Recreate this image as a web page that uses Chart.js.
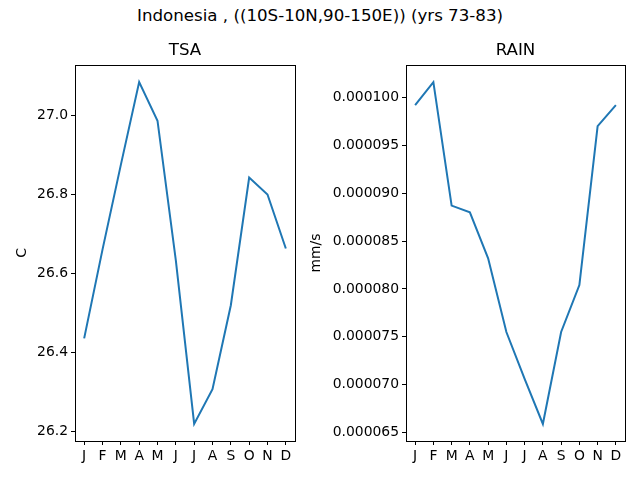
<!DOCTYPE html>
<html lang="en">
<head>
  <meta charset="UTF-8" />
  <title>Indonesia TSA / RAIN</title>
  <script src="https://cdn.jsdelivr.net/npm/chart.js"></script>
  <style>
    body {
      margin: 0;
      background: #fff;
      font-family: 'DejaVu Sans', sans-serif;
    }
    #wrap {
      position: relative;
      width: 640px;
      height: 480px;
    }
    #suptitle {
      position: absolute;
      top: 6px;
      left: 0;
      width: 640px;
      text-align: center;
      font-size: 16.67px;
      color: #000;
    }
    .box {
      position: absolute;
      top: 0;
      height: 480px;
    }
  </style>
</head>
<body>
  <div id="wrap">
    <div id="suptitle">Indonesia , ((10S-10N,90-150E)) (yrs 73-83)</div>
    <div class="box" style="left:0;width:310px"><canvas id="tsaChart"></canvas></div>
    <div class="box" style="left:300px;width:340px"><canvas id="rainChart"></canvas></div>
  </div>

  <script>
    const months = ["J", "F", "M", "A", "M", "J", "J", "A", "S", "O", "N", "D"];

    const tsaValues = [26.435, 26.66, 26.875, 27.085, 26.987, 26.633, 26.218, 26.306, 26.519, 26.843, 26.8, 26.663];
    const tsaTicks = [26.2, 26.4, 26.6, 26.8, 27.0];

    const rainValues = [0.0000992, 0.0001016, 0.0000887, 0.0000880, 0.0000832, 0.0000755,
                        0.0000706, 0.0000659, 0.0000755, 0.0000804, 0.0000970, 0.0000992];
    const rainTicks = [0.000065, 0.000070, 0.000075, 0.000080, 0.000085, 0.000090, 0.000095, 0.000100];

    const font = { family: "'DejaVu Sans', sans-serif", size: 13.9 };

    // matplotlib style frame around the plot area
    const frame = {
      id: 'frame',
      afterDraw(chart) {
        const a = chart.chartArea;
        const ctx = chart.ctx;
        ctx.save();
        ctx.strokeStyle = '#000';
        ctx.lineWidth = 1;
        ctx.strokeRect(Math.round(a.left) + 0.5, Math.round(a.top) + 0.5,
                       Math.round(a.right - a.left), Math.round(a.bottom - a.top));
        ctx.restore();
      }
    };

    function panel(id, title, unit, values, ticks, digits, pad, yWidth) {
      const lo = Math.min(...values), hi = Math.max(...values);
      const m = (hi - lo) * 0.05;
      new Chart(document.getElementById(id), {
        type: 'line',
        data: {
          labels: months,
          datasets: [{
            data: values,
            borderColor: '#1f77b4',
            borderWidth: 2,
            pointRadius: 0,
            tension: 0,
            fill: false
          }]
        },
        options: {
          responsive: false,
          animation: false,
          devicePixelRatio: 1,
          layout: { padding: pad },
          plugins: {
            legend: { display: false },
            tooltip: { enabled: false },
            title: {
              display: true,
              fullSize: false,
              text: title,
              color: '#000',
              font: { family: font.family, size: 16.67, weight: 'normal' },
              padding: { top: 41, bottom: 4 }
            }
          },
          scales: {
            x: {
              offset: true,
              grid: { display: true, drawOnChartArea: false, offset: false, color: '#000', tickLength: 4 },
              border: { display: false },
              ticks: { color: '#000', font: font, padding: 3, maxRotation: 0, autoSkip: false },
              afterFit(s) { s.height = 39; }
            },
            y: {
              min: lo - m,
              max: hi + m,
              grid: { display: true, drawOnChartArea: false, color: '#000', tickLength: 4 },
              border: { display: false },
              title: { display: true, text: unit, color: '#000', font: font, padding: { top: 0, bottom: 0 } },
              ticks: {
                color: '#000', font: font, padding: 3,
                callback: v => v.toFixed(digits)
              },
              afterBuildTicks(s) { s.ticks = ticks.map(v => ({ value: v })); },
              afterFit(s) { s.width = yWidth; }
            }
          }
        },
        plugins: [frame]
      });
    }

    function sizeCanvas(id, w, h) {
      const c = document.getElementById(id);
      c.width = w; c.height = h;
      c.style.width = w + 'px'; c.style.height = h + 'px';
    }

    sizeCanvas('tsaChart', 310, 480);
    sizeCanvas('rainChart', 340, 480);

    panel('tsaChart', 'TSA', 'C', tsaValues, tsaTicks, 1,
          { left: 14, right: 15, top: 0, bottom: 0 }, 61);
    panel('rainChart', 'RAIN', 'mm/s', rainValues, rainTicks, 6,
          { left: 8, right: 15, top: 0, bottom: 0 }, 98);
  </script>
</body>
</html>
